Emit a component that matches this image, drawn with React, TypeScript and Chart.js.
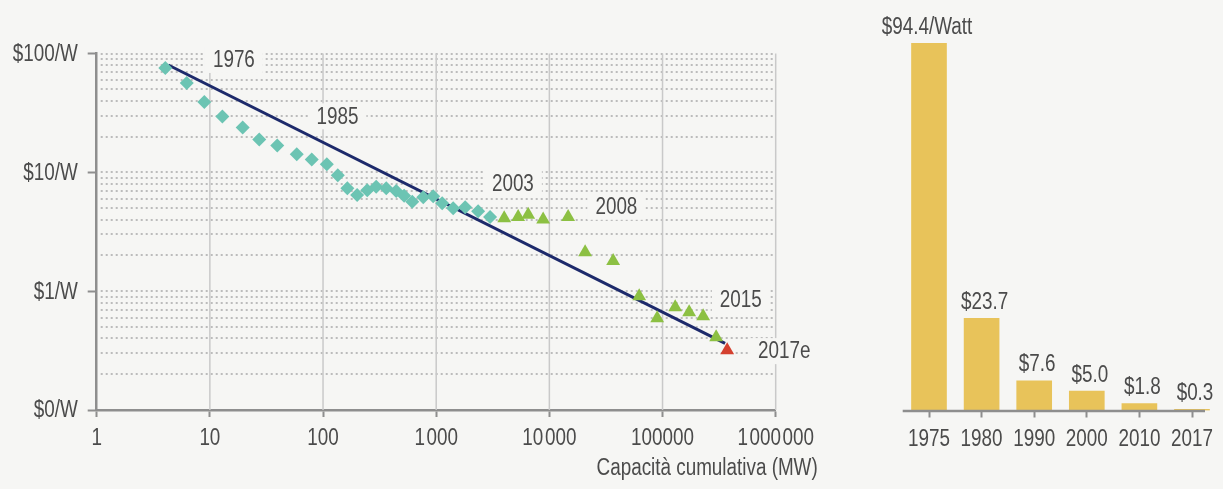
import React, { useEffect, useRef } from 'react';
import { Chart, registerables } from 'chart.js';

Chart.register(...registerables);

// ---------- Left chart data (log-log learning curve) ----------
const diamondCapacity = [4.04, 6.25, 8.93, 12.9, 19.5, 27.3, 39.4, 58.6, 79.5, 108, 135, 164, 200, 246, 295, 362, 443, 521, 614, 768, 941, 1130, 1413, 1803, 2346, 2993];
const diamondPrice = [75.5, 56.4, 39.0, 29.5, 23.8, 18.9, 16.8, 14.2, 12.8, 11.7, 9.47, 7.36, 6.43, 7.08, 7.58, 7.36, 6.95, 6.36, 5.66, 6.18, 6.30, 5.50, 4.99, 5.09, 4.71, 4.20];

const triangleCapacity = [3990, 5300, 6500, 8810, 14650, 20700, 36600, 62200, 89700, 129400, 171900, 228500, 297700];
const trianglePrice = [4.11, 4.20, 4.40, 4.00, 4.20, 2.13, 1.79, 0.906, 0.591, 0.731, 0.664, 0.615, 0.409];

const estimateCapacity = [372600];
const estimatePrice = [0.318];

const trendCapacity = [4.29, 357000];
const trendPrice = [80.0, 0.364];

const xTickValues = [1, 10, 100, 1000, 10000, 100000, 1000000];
const xTickLabels = ['1', '10', '100', '1\u200A000', '10\u200A000', '100000', '1\u200A000\u200A000'];
const yTickValues = [0.1, 1, 10, 100];
const yTickLabels = ['$0/W', '$1/W', '$10/W', '$100/W'];

const yearLabels = ['1976', '1985', '2003', '2008', '2015', '2017e'];
const yearLabelCapacity = [16.3, 134, 4760, 39100, 492000, 1190000];
const yearLabelPrice = [88.2, 29.6, 8.0, 5.13, 0.849, 0.313];

const xAxisTitle = 'Capacità cumulativa (MW)';

// ---------- Right chart data (price per watt by year) ----------
const barYears = ['1975', '1980', '1990', '2000', '2010', '2017'];
const barValues = [94.4, 23.7, 7.6, 5.0, 1.8, 0.3];
const barLabels = ['$94.4/Watt', '$23.7', '$7.6', '$5.0', '$1.8', '$0.3'];

// ---------- Styles ----------
const BG = '#f6f6f4';
const FONT = "23px 'Liberation Sans', Arial, sans-serif";
const SX = 0.82; // horizontal condensing of text
const TEXT = '#4b4b4b';
const AXIS = '#8e8e8e';

const toPoints = (xs: number[], ys: number[]) => xs.map((x, i) => ({ x, y: ys[i] }));

function textWidth(ctx: CanvasRenderingContext2D, t: string) {
  ctx.font = FONT;
  return ctx.measureText(t).width * SX;
}

function drawText(
  ctx: CanvasRenderingContext2D,
  t: string,
  x: number,
  y: number,
  align: CanvasTextAlign,
  baseline: CanvasTextBaseline
) {
  ctx.save();
  ctx.font = FONT;
  ctx.fillStyle = TEXT;
  ctx.textAlign = align;
  ctx.textBaseline = baseline;
  ctx.translate(x, y);
  ctx.scale(SX, 1);
  ctx.fillText(t, 0, 0);
  ctx.restore();
}

const leftDecor = {
  id: 'leftDecor',
  beforeDatasetsDraw(chart: any) {
    const { ctx, chartArea: a, scales } = chart;
    const xs = scales.x;
    const ys = scales.y;
    ctx.save();
    // dotted horizontal minor grid
    ctx.strokeStyle = '#bcbcbc';
    ctx.lineWidth = 2;
    ctx.setLineDash([2, 3]);
    for (let e = -1; e <= 2; e++) {
      for (let m = 1; m <= 9; m++) {
        const v = m * Math.pow(10, e);
        if (v <= 0.1001 || v > 100.001) continue;
        const py = Math.round(ys.getPixelForValue(v));
        ctx.beginPath();
        ctx.moveTo(a.left + 4, py);
        ctx.lineTo(a.right - 3, py);
        ctx.stroke();
      }
    }
    // solid vertical decade lines
    ctx.setLineDash([]);
    ctx.strokeStyle = '#c9c9c9';
    ctx.lineWidth = 1.5;
    xTickValues.slice(1).forEach((v) => {
      const px = xs.getPixelForValue(v);
      ctx.beginPath();
      ctx.moveTo(px, a.top);
      ctx.lineTo(px, a.bottom);
      ctx.stroke();
    });
    // label backgrounds
    ctx.fillStyle = BG;
    yearLabels.forEach((t, i) => {
      const cx = xs.getPixelForValue(yearLabelCapacity[i]);
      const cy = ys.getPixelForValue(yearLabelPrice[i]);
      const w = textWidth(ctx, t);
      ctx.fillRect(cx - w / 2 - 8, cy - 13, w + 16, 26);
    });
    ctx.restore();
  },
  afterDatasetsDraw(chart: any) {
    const { ctx, chartArea: a, scales } = chart;
    const xs = scales.x;
    const ys = scales.y;
    yearLabels.forEach((t, i) => {
      const cx = xs.getPixelForValue(yearLabelCapacity[i]);
      const cy = ys.getPixelForValue(yearLabelPrice[i]);
      drawText(ctx, t, cx, cy + 1, 'center', 'middle');
    });
    xTickValues.forEach((v, i) => {
      drawText(ctx, xTickLabels[i], xs.getPixelForValue(v), a.bottom + 29, 'center', 'middle');
    });
    yTickValues.forEach((v, i) => {
      drawText(ctx, yTickLabels[i], a.left - 19, ys.getPixelForValue(v) + 1, 'right', 'middle');
    });
    drawText(ctx, xAxisTitle, a.right + 42, a.bottom + 64.5, 'right', 'alphabetic');
  },
};

const rightDecor = {
  id: 'rightDecor',
  afterDatasetsDraw(chart: any) {
    const { ctx, chartArea: a, scales } = chart;
    const xs = scales.x;
    ctx.save();
    ctx.strokeStyle = AXIS;
    ctx.lineWidth = 2.5;
    ctx.beginPath();
    ctx.moveTo(a.left, a.bottom + 0.5);
    ctx.lineTo(xs.getPixelForValue(barYears.length - 1) + 13, a.bottom + 0.5);
    ctx.stroke();
    ctx.restore();
    const meta = chart.getDatasetMeta(0);
    meta.data.forEach((bar: any, i: number) => {
      drawText(ctx, barLabels[i], bar.x + (i === 0 ? -2 : 3), bar.y - 9.5, 'center', 'alphabetic');
    });
    barYears.forEach((t, i) => {
      drawText(ctx, t, xs.getPixelForValue(i), a.bottom + 29, 'center', 'middle');
    });
  },
};

export default function App() {
  const leftRef = useRef<HTMLCanvasElement | null>(null);
  const rightRef = useRef<HTMLCanvasElement | null>(null);

  useEffect(() => {
    const left = new Chart(leftRef.current as HTMLCanvasElement, {
      type: 'scatter',
      data: {
        datasets: [
          {
            label: 'estimate',
            data: toPoints(estimateCapacity, estimatePrice),
            pointStyle: 'triangle',
            pointRadius: 8,
            backgroundColor: '#d4402f',
            borderColor: '#d4402f',
            borderWidth: 0,
          },
          {
            label: 'triangles',
            data: toPoints(triangleCapacity, trianglePrice),
            pointStyle: 'triangle',
            pointRadius: 8,
            backgroundColor: '#8cc043',
            borderColor: '#8cc043',
            borderWidth: 0,
          },
          {
            label: 'diamonds',
            data: toPoints(diamondCapacity, diamondPrice),
            pointStyle: 'rectRot',
            pointRadius: 7,
            backgroundColor: '#6cc4b3',
            borderColor: '#6cc4b3',
            borderWidth: 0,
          },
          {
            type: 'line',
            label: 'trend',
            data: toPoints(trendCapacity, trendPrice),
            borderColor: '#1d2a6b',
            borderWidth: 3,
            pointRadius: 0,
            showLine: true,
            fill: false,
          } as any,
        ],
      },
      options: {
        animation: false,
        responsive: false,
        maintainAspectRatio: false,
        events: [],
        layout: { padding: { left: 0, right: 64.3, top: 53.5, bottom: 0 } },
        plugins: { legend: { display: false }, tooltip: { enabled: false } },
        scales: {
          x: {
            type: 'logarithmic',
            min: 1,
            max: 1000000,
            afterBuildTicks: (s: any) => {
              s.ticks = xTickValues.map((value) => ({ value }));
            },
            afterFit: (s: any) => {
              s.height = 79;
            },
            ticks: { display: false, autoSkip: false, maxRotation: 0 },
            grid: { drawOnChartArea: false, drawTicks: true, tickLength: 7, tickWidth: 2, tickColor: AXIS },
            border: { display: true, color: AXIS, width: 2.5 },
          },
          y: {
            type: 'logarithmic',
            min: 0.1,
            max: 100,
            afterBuildTicks: (s: any) => {
              s.ticks = yTickValues.map((value) => ({ value }));
            },
            afterFit: (s: any) => {
              s.width = 96.7;
            },
            ticks: { display: false, autoSkip: false },
            grid: { drawOnChartArea: false, drawTicks: true, tickLength: 9, tickWidth: 2, tickColor: AXIS },
            border: { display: true, color: AXIS, width: 2.5 },
          },
        },
      } as any,
      plugins: [leftDecor],
    });

    const right = new Chart(rightRef.current as HTMLCanvasElement, {
      type: 'bar',
      data: {
        labels: barYears,
        datasets: [
          {
            data: barValues,
            backgroundColor: '#e8c35a',
            borderWidth: 0,
            barThickness: 35,
          },
        ],
      },
      options: {
        animation: false,
        responsive: false,
        maintainAspectRatio: false,
        events: [],
        layout: { padding: { left: 42.7, right: 4.7, top: 21.5, bottom: 0 } },
        plugins: { legend: { display: false }, tooltip: { enabled: false } },
        scales: {
          x: {
            type: 'category',
            afterFit: (s: any) => {
              s.height = 78.5;
            },
            ticks: { display: false, autoSkip: false, maxRotation: 0 },
            grid: { offset: false, drawOnChartArea: false, drawTicks: true, tickLength: 7, tickWidth: 2, tickColor: AXIS },
            border: { display: false },
          },
          y: { display: false, min: 0, max: 100 },
        },
      } as any,
      plugins: [rightDecor],
    });

    return () => {
      left.destroy();
      right.destroy();
    };
  }, []);

  return (
    <div style={{ position: 'fixed', left: 0, top: 0, width: 1223, height: 489, background: BG, overflow: 'hidden' }}>
      <canvas ref={leftRef} width={840} height={489} style={{ position: 'absolute', left: 0, top: 0, width: 840, height: 489 }} />
      <canvas ref={rightRef} width={363} height={489} style={{ position: 'absolute', left: 860, top: 0, width: 363, height: 489 }} />
    </div>
  );
}
